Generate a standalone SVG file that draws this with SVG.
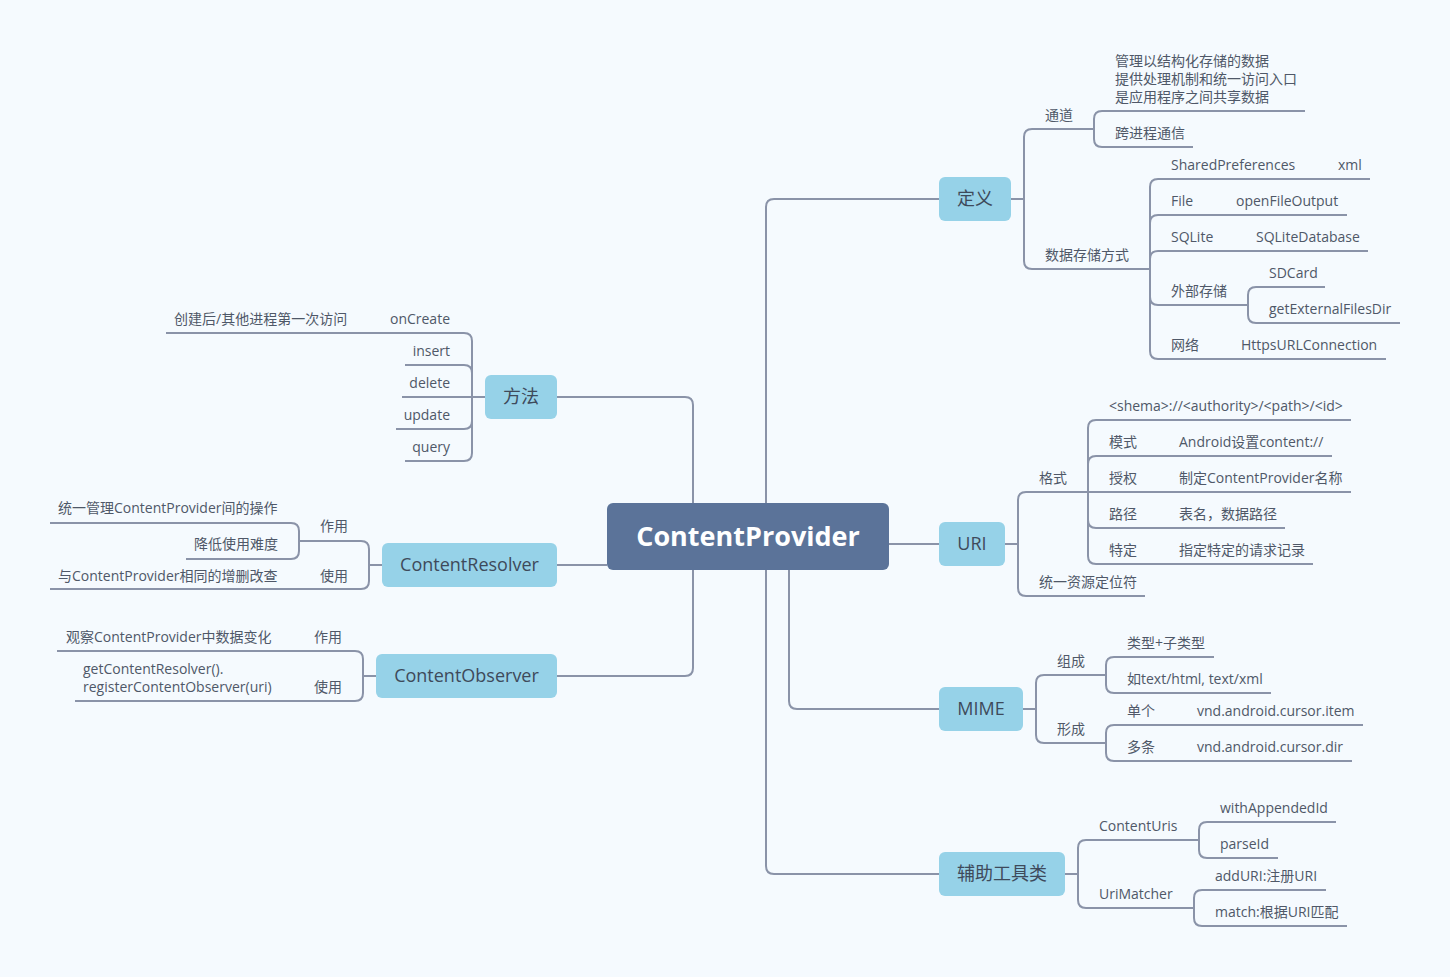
<svg xmlns="http://www.w3.org/2000/svg" width="1450" height="977" viewBox="0 0 1450 977">
<style>
.bg{fill:#F5FAFE}
.ln{fill:none;stroke:#8A93A8;stroke-width:2}
.nd{fill:#96D2E8}
.root{fill:#5B7399}
.nt{font-family:"Open Sans","Noto Sans CJK SC",sans-serif;font-size:18px;fill:#3E4A5B;text-anchor:middle}
.rt{font-family:"Open Sans","Noto Sans CJK SC",sans-serif;font-size:27px;font-weight:bold;fill:#FFFFFF;text-anchor:middle}
.t{font-family:"Open Sans","Noto Sans CJK SC",sans-serif;font-size:14px;fill:#4F5868}
.e{text-anchor:end}
</style>
<rect class="bg" x="0" y="0" width="1450" height="977"/>
<g id="connectors">
<path class="ln" d="M766,503 V207 Q766,199 774,199 H939"/>
<path class="ln" d="M693,503 V405 Q693,397 685,397 H557"/>
<path class="ln" d="M607,565 H557"/>
<path class="ln" d="M693,570 V668 Q693,676 685,676 H557"/>
<path class="ln" d="M889,544 H939"/>
<path class="ln" d="M789,570 V701 Q789,709 797,709 H939"/>
<path class="ln" d="M766,570 V866 Q766,874 774,874 H939"/>
<path class="ln" d="M1011,199 H1024"/>
<path class="ln" d="M1024,199 V137 Q1024,129 1032,129 H1094"/>
<path class="ln" d="M1024,199 V261 Q1024,269 1032,269 H1150"/>
<path class="ln" d="M1094,129 V119 Q1094,111 1102,111 H1305"/>
<path class="ln" d="M1094,129 V139 Q1094,147 1102,147 H1193"/>
<path class="ln" d="M1150,269 V187 Q1150,179 1158,179 H1370"/>
<path class="ln" d="M1150,269 V223 Q1150,215 1158,215 H1347"/>
<path class="ln" d="M1150,269 V259 Q1150,251 1158,251 H1368"/>
<path class="ln" d="M1150,269 V297 Q1150,305 1158,305 H1248"/>
<path class="ln" d="M1150,269 V351 Q1150,359 1158,359 H1386"/>
<path class="ln" d="M1248,305 V295 Q1248,287 1256,287 H1325"/>
<path class="ln" d="M1248,305 V315 Q1248,323 1256,323 H1400"/>
<path class="ln" d="M1005,544 H1018"/>
<path class="ln" d="M1018,544 V500 Q1018,492 1026,492 H1088"/>
<path class="ln" d="M1018,544 V588 Q1018,596 1026,596 H1145"/>
<path class="ln" d="M1088,492 V428 Q1088,420 1096,420 H1351"/>
<path class="ln" d="M1088,492 V464 Q1088,456 1096,456 H1332"/>
<path class="ln" d="M1088,492 H1351"/>
<path class="ln" d="M1088,492 V520 Q1088,528 1096,528 H1285"/>
<path class="ln" d="M1088,492 V556 Q1088,564 1096,564 H1313"/>
<path class="ln" d="M1023,709 H1036"/>
<path class="ln" d="M1036,709 V683 Q1036,675 1044,675 H1106"/>
<path class="ln" d="M1036,709 V735 Q1036,743 1044,743 H1106"/>
<path class="ln" d="M1106,675 V665 Q1106,657 1114,657 H1214"/>
<path class="ln" d="M1106,675 V685 Q1106,693 1114,693 H1271"/>
<path class="ln" d="M1106,743 V733 Q1106,725 1114,725 H1363"/>
<path class="ln" d="M1106,743 V753 Q1106,761 1114,761 H1352"/>
<path class="ln" d="M1065,874 H1078"/>
<path class="ln" d="M1078,874 V848 Q1078,840 1086,840 H1199"/>
<path class="ln" d="M1078,874 V900 Q1078,908 1086,908 H1194"/>
<path class="ln" d="M1199,840 V830 Q1199,822 1207,822 H1336"/>
<path class="ln" d="M1199,840 V850 Q1199,858 1207,858 H1278"/>
<path class="ln" d="M1194,908 V898 Q1194,890 1202,890 H1326"/>
<path class="ln" d="M1194,908 V918 Q1194,926 1202,926 H1347"/>
<path class="ln" d="M485,397 H472"/>
<path class="ln" d="M472,397 V341 Q472,333 464,333 H166"/>
<path class="ln" d="M472,397 V373 Q472,365 464,365 H405"/>
<path class="ln" d="M472,397 H402"/>
<path class="ln" d="M472,397 V421 Q472,429 464,429 H396"/>
<path class="ln" d="M472,397 V453 Q472,461 464,461 H405"/>
<path class="ln" d="M382,565 H369"/>
<path class="ln" d="M369,565 V549 Q369,541 361,541 H299"/>
<path class="ln" d="M369,565 V581 Q369,589 361,589 H50"/>
<path class="ln" d="M299,541 V531 Q299,523 291,523 H50"/>
<path class="ln" d="M299,541 V551 Q299,559 291,559 H186"/>
<path class="ln" d="M376,676 H363"/>
<path class="ln" d="M363,676 V659 Q363,651 355,651 H57"/>
<path class="ln" d="M363,676 V693 Q363,701 355,701 H75"/>
</g>
<g id="root">
<rect class="root" x="607" y="503" width="282" height="67" rx="6"/>
<text class="rt" x="748" y="546">ContentProvider</text>
</g>
<g id="n-dingyi">
<rect class="nd" x="939" y="177" width="72" height="44" rx="6"/>
<text class="nt" x="975" y="205">定义</text>
<text class="t" x="1045" y="120">通道</text>
<text class="t" x="1115" y="66">管理以结构化存储的数据</text>
<text class="t" x="1115" y="84">提供处理机制和统一访问入口</text>
<text class="t" x="1115" y="102">是应用程序之间共享数据</text>
<text class="t" x="1115" y="138">跨进程通信</text>
<text class="t" x="1045" y="260">数据存储方式</text>
<text class="t" x="1171" y="170">SharedPreferences</text>
<text class="t" x="1338" y="170">xml</text>
<text class="t" x="1171" y="206">File</text>
<text class="t" x="1236" y="206">openFileOutput</text>
<text class="t" x="1171" y="242">SQLite</text>
<text class="t" x="1256" y="242">SQLiteDatabase</text>
<text class="t" x="1171" y="296">外部存储</text>
<text class="t" x="1269" y="278">SDCard</text>
<text class="t" x="1269" y="314">getExternalFilesDir</text>
<text class="t" x="1171" y="350">网络</text>
<text class="t" x="1241" y="350">HttpsURLConnection</text>
</g>
<g id="n-uri">
<rect class="nd" x="939" y="522" width="66" height="44" rx="6"/>
<text class="nt" x="972" y="550">URI</text>
<text class="t" x="1039" y="483">格式</text>
<text class="t" x="1039" y="587">统一资源定位符</text>
<text class="t" x="1109" y="411">&lt;shema&gt;://&lt;authority&gt;/&lt;path&gt;/&lt;id&gt;</text>
<text class="t" x="1109" y="447">模式</text>
<text class="t" x="1179" y="447">Android设置content://</text>
<text class="t" x="1109" y="483">授权</text>
<text class="t" x="1179" y="483">制定ContentProvider名称</text>
<text class="t" x="1109" y="519">路径</text>
<text class="t" x="1179" y="519">表名，数据路径</text>
<text class="t" x="1109" y="555">特定</text>
<text class="t" x="1179" y="555">指定特定的请求记录</text>
</g>
<g id="n-mime">
<rect class="nd" x="939" y="687" width="84" height="44" rx="6"/>
<text class="nt" x="981" y="715">MIME</text>
<text class="t" x="1057" y="666">组成</text>
<text class="t" x="1057" y="734">形成</text>
<text class="t" x="1127" y="648">类型+子类型</text>
<text class="t" x="1127" y="684">如text/html, text/xml</text>
<text class="t" x="1127" y="716">单个</text>
<text class="t" x="1197" y="716">vnd.android.cursor.item</text>
<text class="t" x="1127" y="752">多条</text>
<text class="t" x="1197" y="752">vnd.android.cursor.dir</text>
</g>
<g id="n-fuzhu">
<rect class="nd" x="939" y="852" width="126" height="44" rx="6"/>
<text class="nt" x="1002" y="880">辅助工具类</text>
<text class="t" x="1099" y="831">ContentUris</text>
<text class="t" x="1099" y="899">UriMatcher</text>
<text class="t" x="1220" y="813">withAppendedId</text>
<text class="t" x="1220" y="849">parseId</text>
<text class="t" x="1215" y="881">addURI:注册URI</text>
<text class="t" x="1215" y="917">match:根据URI匹配</text>
</g>
<g id="n-fangfa">
<rect class="nd" x="485" y="375" width="72" height="44" rx="6"/>
<text class="nt" x="521" y="403">方法</text>
<text class="t" x="174" y="324">创建后/其他进程第一次访问</text>
<text class="t e" x="450" y="324">onCreate</text>
<text class="t e" x="450" y="356">insert</text>
<text class="t e" x="450" y="388">delete</text>
<text class="t e" x="450" y="420">update</text>
<text class="t e" x="450" y="452">query</text>
</g>
<g id="n-resolver">
<rect class="nd" x="382" y="543" width="175" height="44" rx="6"/>
<text class="nt" x="469.5" y="571">ContentResolver</text>
<text class="t" x="58" y="513">统一管理ContentProvider间的操作</text>
<text class="t e" x="348" y="531">作用</text>
<text class="t e" x="278" y="549">降低使用难度</text>
<text class="t" x="58" y="581">与ContentProvider相同的增删改查</text>
<text class="t e" x="348" y="581">使用</text>
</g>
<g id="n-observer">
<rect class="nd" x="376" y="654" width="181" height="44" rx="6"/>
<text class="nt" x="466.5" y="682">ContentObserver</text>
<text class="t" x="66" y="642">观察ContentProvider中数据变化</text>
<text class="t e" x="342" y="642">作用</text>
<text class="t" x="83" y="674">getContentResolver().</text>
<text class="t" x="83" y="692">registerContentObserver(uri)</text>
<text class="t e" x="342" y="692">使用</text>
</g>
</svg>
